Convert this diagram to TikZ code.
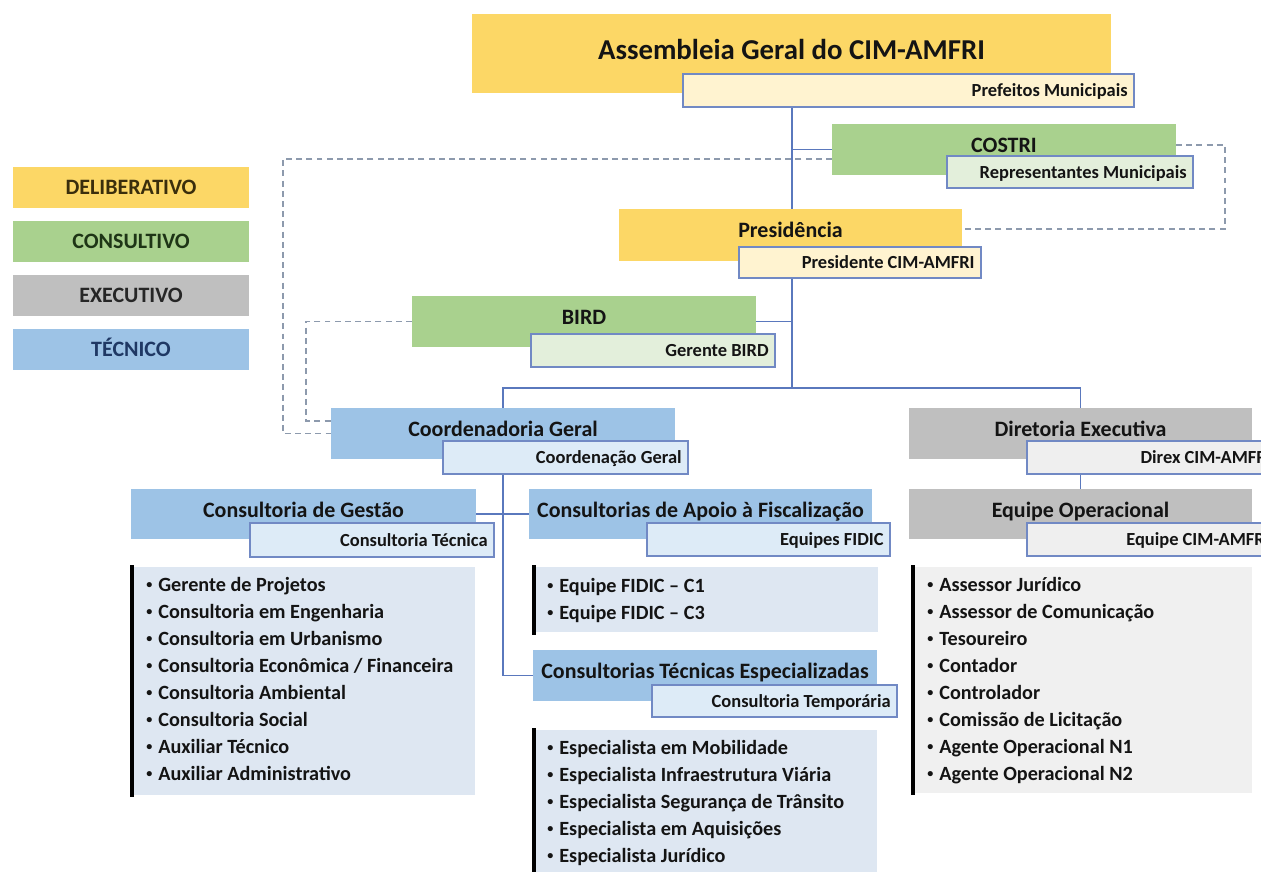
\documentclass[tikz,border=0pt]{standalone}
\usepackage{fontspec}
\usepackage{graphicx}
\setmainfont{Carlito}
\usetikzlibrary{fit,backgrounds,calc}
\definecolor{yel}{HTML}{FCD766}
\definecolor{grn}{HTML}{A9D18E}
\definecolor{gry}{HTML}{BFBFBF}
\definecolor{blu}{HTML}{9DC3E6}
\definecolor{subyel}{HTML}{FFF3D0}
\definecolor{subgrn}{HTML}{E3EFDB}
\definecolor{subblu}{HTML}{DDEBF7}
\definecolor{subgry}{HTML}{EFEFEF}
\definecolor{bord}{HTML}{7189C4}
\definecolor{listblu}{HTML}{DEE7F2}
\definecolor{listgry}{HTML}{F0F0F0}
\definecolor{conn}{HTML}{5A78BD}
\definecolor{dsh}{HTML}{8D9AAD}
\definecolor{txt}{HTML}{141414}
\definecolor{legY}{HTML}{3A2E0C}
\definecolor{legG}{HTML}{1E3516}
\definecolor{legX}{HTML}{262626}
\definecolor{legB}{HTML}{1F3864}
\tikzset{
  mainb/.style={inner sep=0pt, outer sep=0pt, draw=none},
  subb/.style={inner sep=0pt, outer sep=0pt, draw=bord, line width=0.7pt},
  listb/.style={inner sep=0pt, outer sep=0pt, draw=none},
  maintxt/.style={inner sep=0pt, text=txt, font=\fontsize{12.5}{14}\selectfont\bfseries},
  subtxt/.style={inner sep=0pt, text=txt, font=\fontsize{10.5}{12}\selectfont\bfseries},
  itemtxt/.style={inner sep=0pt, text=txt, font=\fontsize{11.5}{14}\selectfont\bfseries},
  legtxt/.style={inner sep=0pt, font=\fontsize{12.5}{14}\selectfont\bfseries},
  connline/.style={draw=conn, line width=0.75pt},
  dashline/.style={draw=dsh, line width=1pt, dash pattern=on 3.4pt off 2.4pt},
  barline/.style={draw=black, line width=1.9pt},
}
\newcommand{\orgmain}[7]{%
  \node[mainb, fill=#6, fit={(#2,#3)(#4,#5)}] (#1) {};
  \node[maintxt, anchor=base] (#1t) at ({(#2+#4)/2},{#3+28}) {#7};}
\newcommand{\orgsub}[7]{%
  \node[subb, fill=#6, fit={(#2,#3)(#4,#5)}] (#1) {};
  \node[subtxt, anchor=base east] (#1t) at ({#4-6},{(#3+#5)/2+6}) {#7};}
\newcommand{\bul}{\makebox[0.24cm][l]{\raisebox{0.25ex}{\scalebox{0.6}{•}}}}
\begin{document}
\begin{tikzpicture}[x=0.02cm,y=-0.02cm]
\useasboundingbox (0,0) rectangle (1261,872);
\clip (0,0) rectangle (1261,872);

% legend
\node[mainb, fill=yel, fit={(13,167)(249,208)}] (legd) {};
\node[legtxt, text=legY, anchor=base] (legdt) at (131,194.5) {DELIBERATIVO};
\node[mainb, fill=grn, fit={(13,221)(249,262)}] (legc) {};
\node[legtxt, text=legG, anchor=base] (legct) at (131,248.5) {CONSULTIVO};
\node[mainb, fill=gry, fit={(13,275)(249,316)}] (lege) {};
\node[legtxt, text=legX, anchor=base] (leget) at (131,302.5) {EXECUTIVO};
\node[mainb, fill=blu, fit={(13,329)(249,370)}] (legt) {};
\node[legtxt, text=legB, anchor=base] (legtt) at (131,356.5) {TÉCNICO};

% top
\node[mainb, fill=yel, fit={(472,14)(1111,93)}] (assem) {};
\node[inner sep=0pt, text=txt, font=\fontsize{16.4}{18}\selectfont\bfseries, anchor=base] (assemt) at (791.5,59) {Assembleia Geral do CIM-AMFRI};
\orgsub{pref}{683}{74}{1134}{107}{subyel}{Prefeitos Municipais}

\orgmain{costri}{832}{124}{1176}{175}{grn}{COSTRI}
\orgsub{repr}{947}{156}{1193}{188}{subgrn}{Representantes Municipais}

\orgmain{pres}{619}{209}{962}{261}{yel}{Presidência}
\orgsub{presd}{739}{247}{981}{278}{subyel}{Presidente CIM-AMFRI}

\orgmain{bird}{412}{296}{756}{347}{grn}{BIRD}
\orgsub{gbird}{531}{334}{775}{367}{subgrn}{Gerente BIRD}

\orgmain{coord}{331}{408}{675}{459}{blu}{Coordenadoria Geral}
\orgsub{coordsub}{443}{441}{688}{474}{subblu}{Coordenação Geral}

\orgmain{dir}{909}{408}{1252}{459}{gry}{Diretoria Executiva}
\orgsub{direx}{1027}{441}{1278}{474}{subgry}{Direx CIM-AMFRI}

\orgmain{gest}{131}{489}{476}{539}{blu}{Consultoria de Gestão}
\orgsub{ctec}{250}{523}{494}{557}{subblu}{Consultoria Técnica}

\orgmain{apoio}{529}{489}{872}{539}{blu}{Consultorias de Apoio à Fiscalização}
\orgsub{fidic}{647}{523}{890}{556}{subblu}{Equipes FIDIC}

\orgmain{tecn}{533}{650}{877}{701}{blu}{Consultorias Técnicas Especializadas}
\orgsub{ctemp}{652}{685}{897}{717}{subblu}{Consultoria Temporária}

\orgmain{eqop}{909}{489}{1252}{539}{gry}{Equipe Operacional}
\orgsub{eqcim}{1027}{523}{1276}{556}{subgry}{Equipe CIM-AMFRI}

% lists
\node[listb, fill=listblu, fit={(131,567)(475,795)}] (l1) {};
\draw[barline] ($(l1.north west)+(1,-2)$) -- ($(l1.south west)+(1,2)$);
\foreach \t [count=\i] in {Gerente de Projetos,Consultoria em Engenharia,Consultoria em Urbanismo,Consultoria Econômica / Financeira,Consultoria Ambiental,Consultoria Social,Auxiliar Técnico,Auxiliar Administrativo}
  \node[itemtxt, anchor=base west] (la\i) at (146,{591+27*(\i-1)}) {\bul\t};

\node[listb, fill=listblu, fit={(533,567)(878,632)}] (l2) {};
\draw[barline] ($(l2.north west)+(1,-2)$) -- ($(l2.south west)+(1,3)$);
\foreach \t [count=\i] in {Equipe FIDIC – C1,Equipe FIDIC – C3}
  \node[itemtxt, anchor=base west] (lb\i) at (547,{592+27*(\i-1)}) {\bul\t};

\node[listb, fill=listblu, fit={(533,730)(877,880)}] (l3) {};
\draw[barline] ($(l3.north west)+(1,-2)$) -- ($(l3.south west)+(1,0)$);
\foreach \t [count=\i] in {Especialista em Mobilidade,Especialista Infraestrutura Viária,Especialista Segurança de Trânsito,Especialista em Aquisições,Especialista Jurídico}
  \node[itemtxt, anchor=base west] (lc\i) at (547,{754+27*(\i-1)}) {\bul\t};

\node[listb, fill=listgry, fit={(912,567)(1252,793)}] (l4) {};
\draw[barline] ($(l4.north west)+(1,-2)$) -- ($(l4.south west)+(1,2)$);
\foreach \t [count=\i] in {Assessor Jurídico,Assessor de Comunicação,Tesoureiro,Contador,Controlador,Comissão de Licitação,Agente Operacional N1,Agente Operacional N2}
  \node[itemtxt, anchor=base west] (ld\i) at (927,{591+27*(\i-1)}) {\bul\t};

% connectors
\coordinate (bus) at (792,388);
\begin{scope}[on background layer]
  \fill[white] (0,0) rectangle (1261,872);
  \draw[connline] (bus |- pref.south) -- (bus);
  \draw[connline] (costri.west) -- (costri.west -| bus);
  \draw[connline] (bird.east) -- (bird.east -| bus);
  \draw[connline] (coord.north) -- (coord.north |- bus) -- (dir.north |- bus) -- (dir.north);
  \draw[connline] (coord.south) -- (coord.south |- tecn.west) -- (tecn.west);
  \draw[connline] (gest.east) -- (apoio.west);
  \draw[connline] (dir.south) -- (eqop.north);
  \draw[dashline] ($(costri.west)+(0,9.5)$) -| ($(coord.west)+(-48,0)$) -- (coord.west);
  \draw[dashline] (bird.west) -| ($(coord.west)+(-25,-12.5)$) -- ($(coord.west)+(0,-12.5)$);
  \draw[dashline] ($(costri.east)+(0,-4.5)$) -| ($(pres.east)+(263,-6)$) -- ($(pres.east)+(0,-6)$);
\end{scope}
\end{tikzpicture}
\end{document}
